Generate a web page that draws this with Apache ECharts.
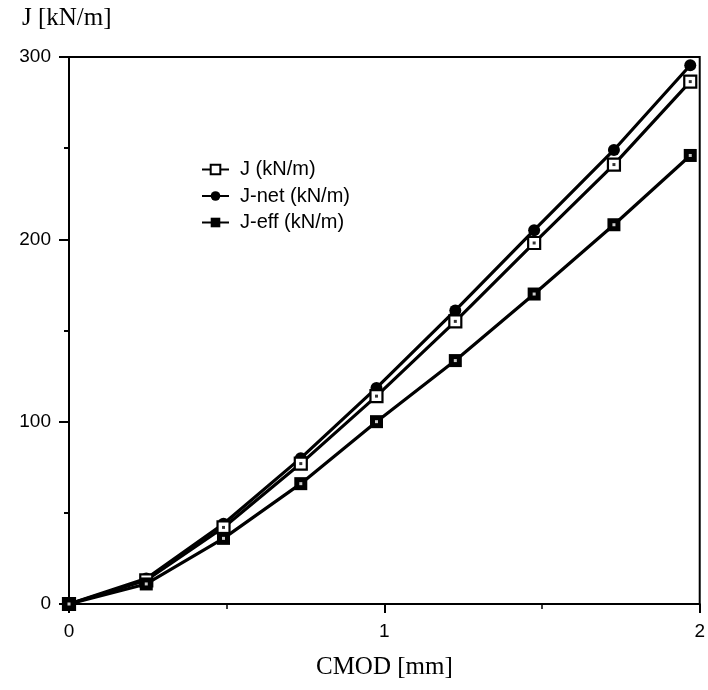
<!DOCTYPE html>
<html>
<head>
<meta charset="utf-8">
<script src="https://cdn.jsdelivr.net/npm/echarts@6/dist/echarts.min.js"></script>
<style>html,body{margin:0;padding:0;background:#fff}#c{width:708px;height:690px}</style>
</head>
<body>
<div id="c"></div>
<script>
var cmod = [0, 0.245, 0.49, 0.735, 0.975, 1.225, 1.475, 1.728, 1.97];
var jVals = [0, 13, 42, 77, 114, 155, 198, 241, 286.5];
var jNetVals = [0, 14, 44, 80, 118.5, 161, 205, 249, 295.5];
var jEffVals = [0, 11, 36, 66, 100, 133.5, 170, 208, 246];
var seriesNames = ['J (kN/m)', 'J-net (kN/m)', 'J-eff (kN/m)'];
var xTicks = [0, 1, 2];
var yTicks = [0, 100, 200, 300];

function pairs(ys) { return cmod.map(function (x, i) { return [x, ys[i]]; }); }

var SANS = 'Liberation Sans, Arial, Helvetica, sans-serif';
var SERIF = 'Liberation Serif, Times New Roman, serif';
var chart = echarts.init(document.getElementById('c'), null, {renderer: 'canvas'});
var lineStyle = {color: '#000', width: 3.2};
chart.setOption({
  animation: false,
  backgroundColor: '#fff',
  grid: {left: 69, right: 7, top: 57, bottom: 86, show: true, borderColor: '#000', borderWidth: 2, backgroundColor: 'transparent'},
  legend: {
    orient: 'vertical', left: 196, top: 154, itemWidth: 27, itemHeight: 12, itemGap: 5.5,
    textStyle: {fontFamily: SANS, fontSize: 20, lineHeight: 21, color: '#000', padding: [0, 0, 0, 6]},
    data: seriesNames
  },
  xAxis: {
    type: 'value', min: 0, max: 2, interval: 1,
    name: 'CMOD [mm]', nameLocation: 'middle', nameGap: 51,
    nameTextStyle: {fontFamily: SERIF, fontSize: 25, color: '#000'},
    axisLine: {show: true, lineStyle: {color: '#000', width: 2}},
    axisTick: {show: true, length: 9, lineStyle: {color: '#000', width: 2}},
    minorTick: {show: true, splitNumber: 2, length: 5, lineStyle: {color: '#000', width: 1.5}},
    splitLine: {show: false},
    axisLabel: {margin: 18, fontFamily: SANS, fontSize: 19, color: '#000',
      formatter: function (v) { return xTicks.indexOf(v) >= 0 ? String(v) : ''; }}
  },
  yAxis: {
    type: 'value', min: 0, max: 300, interval: 100,
    name: 'J [kN/m]', nameLocation: 'end', nameGap: 26,
    nameTextStyle: {fontFamily: SERIF, fontSize: 25, color: '#000', align: 'left', padding: [0, 0, 0, -47]},
    axisLine: {show: true, lineStyle: {color: '#000', width: 2}},
    axisTick: {show: true, length: 10, lineStyle: {color: '#000', width: 2}},
    minorTick: {show: true, splitNumber: 2, length: 5, lineStyle: {color: '#000', width: 2}},
    splitLine: {show: false},
    axisLabel: {margin: 18, fontFamily: SANS, fontSize: 19, color: '#000',
      formatter: function (v) { return yTicks.indexOf(v) >= 0 ? String(v) : ''; }}
  },
  series: [
    {name: seriesNames[0], type: 'line', data: pairs(jVals), z: 3,
      symbol: 'rect', symbolSize: 12, showAllSymbol: true,
      itemStyle: {color: '#fff', borderColor: '#000', borderWidth: 2.2}, lineStyle: lineStyle},
    {name: seriesNames[1], type: 'line', data: pairs(jNetVals), z: 2,
      symbol: 'circle', symbolSize: 12, showAllSymbol: true,
      itemStyle: {color: '#000', borderColor: '#000', borderWidth: 0}, lineStyle: lineStyle},
    {name: seriesNames[2], type: 'line', data: pairs(jEffVals), z: 4,
      symbol: 'rect', symbolSize: 13, showAllSymbol: true,
      itemStyle: {color: '#000', borderColor: '#000', borderWidth: 0}, lineStyle: lineStyle},
    {name: 'J centre', type: 'scatter', data: pairs(jVals), z: 5, silent: true,
      symbol: 'rect', symbolSize: 3, itemStyle: {color: '#000'}},
    {name: 'J-eff centre', type: 'scatter', data: pairs(jEffVals), z: 5, silent: true,
      symbol: 'rect', symbolSize: 3, itemStyle: {color: '#fff'}}
  ]
});
</script>
</body>
</html>
